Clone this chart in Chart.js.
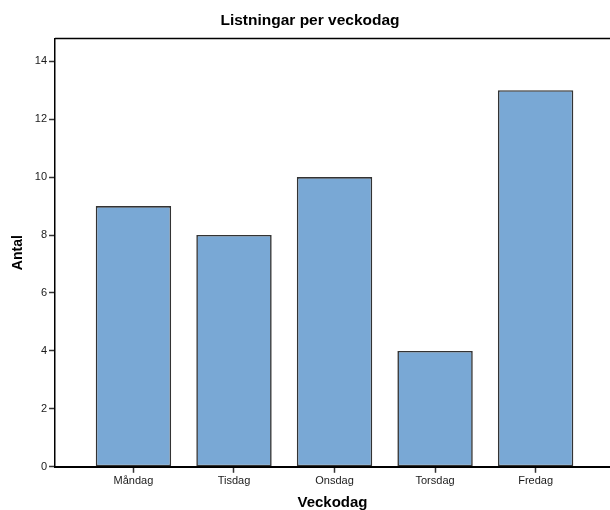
<!DOCTYPE html>
<html>
<head>
<meta charset="utf-8">
<script src="https://cdn.jsdelivr.net/npm/chart.js@4"></script>
<style>
  html, body { margin: 0; padding: 0; background: #fff; overflow: hidden; }
  #wrap { width: 610px; height: 510px; }
</style>
</head>
<body>
<div id="wrap"><canvas id="chart" width="610" height="510"></canvas></div>
<script>
// Listningar per veckodag — bar chart
const days = ["Måndag", "Tisdag", "Onsdag", "Torsdag", "Fredag"];
const counts = [9, 8, 10, 4, 13];
const yTicks = [0, 2, 4, 6, 8, 10, 12, 14];

const FONT = "'Liberation Sans', Arial, sans-serif";
const COLORS = {
  bar: "#79a8d5",
  edge: "#333333",
  axis: "#000000",
  text: "#1a1a1a",
};

// top frame line of the plot area
const frameTop = {
  id: "frameTop",
  afterDraw(chart) {
    const { ctx, chartArea } = chart;
    ctx.save();
    ctx.strokeStyle = COLORS.axis;
    ctx.lineWidth = 1.5;
    ctx.beginPath();
    ctx.moveTo(chartArea.left, chartArea.top);
    ctx.lineTo(chart.width, chartArea.top);
    ctx.stroke();
    ctx.restore();
  },
};

new Chart(document.getElementById("chart"), {
  type: "bar",
  data: {
    datasets: [{
      data: days.map((d, i) => ({ x: i, y: counts[i] })),
      backgroundColor: COLORS.bar,
      borderColor: COLORS.edge,
      borderWidth: 1.6,
      borderSkipped: false,
      barPercentage: 0.75,
      categoryPercentage: 1,
    }],
  },
  options: {
    responsive: false,
    animation: false,
    layout: { padding: { left: 10, right: 0, top: 4, bottom: 0 } },
    plugins: {
      legend: { display: false },
      tooltip: { enabled: false },
      title: {
        display: true,
        text: "Listningar per veckodag",
        color: "#000",
        font: { family: FONT, size: 15.5, weight: "bold", lineHeight: 1.1 },
        padding: { top: 8, bottom: 9.5 },
      },
    },
    scales: {
      x: {
        type: "linear",
        offset: false,
        min: -0.78,
        max: 4.74,
        afterBuildTicks(scale) {
          scale.ticks = days.map((d, i) => ({ value: i }));
        },
        ticks: {
          callback: (v) => days[v] ?? "",
          color: COLORS.text,
          font: { family: FONT, size: 11 },
          padding: 2,
          maxRotation: 0,
          autoSkip: false,
        },
        grid: {
          offset: false,
          drawOnChartArea: false,
          drawTicks: true,
          tickLength: 6,
          tickColor: "#333",
          tickWidth: 1.5,
        },
        border: { color: COLORS.axis, width: 2 },
        title: {
          display: true,
          text: "Veckodag",
          color: "#000",
          font: { family: FONT, size: 15, weight: "bold", lineHeight: 1 },
          padding: { top: 5, bottom: 0 },
        },
      },
      y: {
        min: 0,
        max: 14.78,
        afterBuildTicks(scale) {
          scale.ticks = yTicks.map((v) => ({ value: v }));
        },
        ticks: {
          color: COLORS.text,
          font: { family: FONT, size: 11 },
          padding: 2,
        },
        grid: {
          drawOnChartArea: false,
          drawTicks: true,
          tickLength: 6,
          tickColor: "#333",
          tickWidth: 1.5,
        },
        border: { color: COLORS.axis, width: 1.5 },
        title: {
          display: true,
          text: "Antal",
          color: "#000",
          font: { family: FONT, size: 14, weight: "bold" },
          padding: { top: 0, bottom: 6 },
        },
      },
    },
  },
  plugins: [frameTop],
});
</script>
</body>
</html>
